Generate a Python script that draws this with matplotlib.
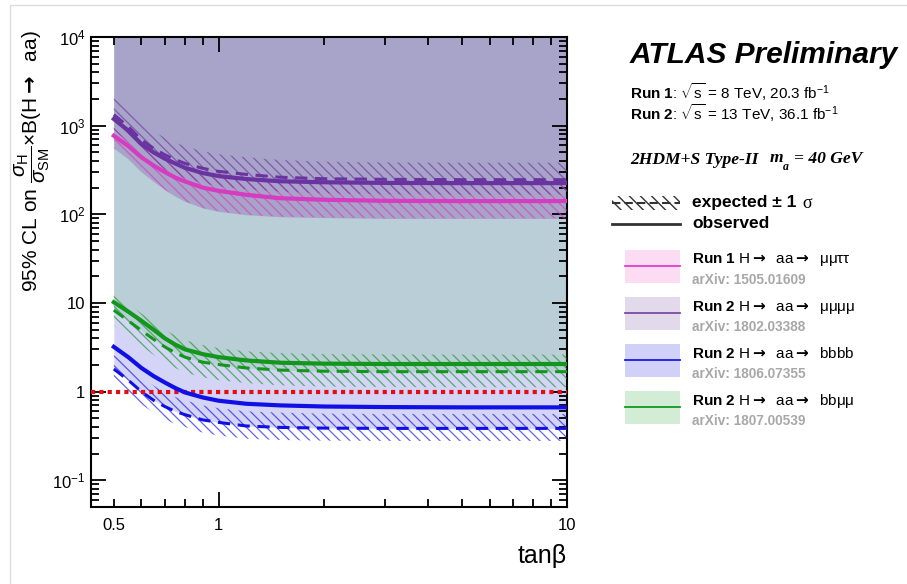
import numpy as np
import matplotlib
matplotlib.use('Agg')
import matplotlib.pyplot as plt
from matplotlib.collections import LineCollection
from matplotlib.patches import Rectangle
from matplotlib.ticker import FixedLocator, FuncFormatter, NullFormatter

plt.rcParams['font.family'] = ['Liberation Sans', 'DejaVu Sans']
plt.rcParams['mathtext.fontset'] = 'custom'
plt.rcParams['mathtext.rm'] = 'Liberation Sans'
plt.rcParams['mathtext.it'] = 'Liberation Sans:italic'
plt.rcParams['mathtext.bf'] = 'Liberation Sans:bold'
plt.rcParams['mathtext.sf'] = 'DejaVu Sans:bold'

# tan(beta) grid
tanb = [0.5, 0.55, 0.6, 0.65, 0.7, 0.75, 0.8, 0.9, 1.0, 1.2, 1.5, 2, 3, 5, 10]

# Run 1 mumutautau
pink_obs = [770, 590, 440, 355, 300, 260, 235, 200, 184, 166, 152, 146, 142, 141, 141]
pink_up = [1150, 880, 650, 530, 445, 390, 350, 300, 270, 245, 228, 218, 212, 210, 210]
pink_lo = [560, 420, 300, 235, 190, 160, 140, 118, 108, 99, 94, 92, 90, 90, 90]

# Run 2 mumumumu
purp_obs = [1190, 880, 620, 500, 425, 375, 335, 292, 270, 250, 236, 230, 226, 225, 225]
purp_exp = [1330, 980, 690, 555, 470, 415, 375, 330, 305, 282, 262, 252, 248, 246, 246]
purp_up = [2050, 1500, 1060, 860, 730, 645, 585, 515, 475, 440, 410, 392, 385, 382, 382]
purp_lo = [900, 660, 470, 380, 320, 282, 255, 225, 207, 192, 180, 172, 168, 167, 167]

# Run 2 bbbb
blue_obs = [3.2, 2.45, 1.85, 1.5, 1.27, 1.1, 0.98, 0.86, 0.79, 0.73, 0.70, 0.68, 0.67, 0.665, 0.665]
blue_exp = [1.8, 1.35, 1.0, 0.8, 0.68, 0.6, 0.55, 0.48, 0.45, 0.41, 0.395, 0.388, 0.385, 0.385, 0.385]
blue_up = [2.6, 1.95, 1.45, 1.17, 0.98, 0.87, 0.8, 0.7, 0.65, 0.6, 0.58, 0.565, 0.56, 0.56, 0.56]
blue_lo = [1.3, 0.97, 0.72, 0.58, 0.49, 0.43, 0.4, 0.345, 0.32, 0.295, 0.285, 0.28, 0.278, 0.278, 0.278]

# Run 2 bbmumu
green_obs = [10.2, 8.0, 6.3, 5.0, 4.0, 3.4, 3.0, 2.65, 2.45, 2.25, 2.12, 2.07, 2.05, 2.05, 2.05]
green_exp = [8.3, 6.3, 4.9, 3.9, 3.2, 2.75, 2.45, 2.15, 2.02, 1.85, 1.75, 1.7, 1.68, 1.68, 1.68]
green_up = [12.8, 9.8, 7.6, 6.1, 5.0, 4.3, 3.8, 3.35, 3.1, 2.85, 2.72, 2.65, 2.63, 2.62, 2.62]
green_lo = [5.6, 4.2, 3.3, 2.6, 2.15, 1.85, 1.65, 1.45, 1.35, 1.25, 1.18, 1.14, 1.13, 1.12, 1.12]

entries = [
    ('Run 1', 'μμττ', 'arXiv: 1505.01609', '#fcdcf3', '#e040c8'),
    ('Run 2', 'μμμμ', 'arXiv: 1802.03388', '#e2d9ea', '#7a4aa8'),
    ('Run 2', 'bbbb', 'arXiv: 1806.07355', '#d0d0f8', '#1a1ae0'),
    ('Run 2', 'bbμμ', 'arXiv: 1807.00539', '#d2ecd6', '#129a1e'),
]

c_pink = '#d63cc0'
c_purp = '#6a34a0'
c_blue = '#1010e6'
c_green = '#12961c'

fig = plt.figure(figsize=(9.07, 5.84), dpi=100)
ax = fig.add_axes([91 / 907, 1 - 507 / 584, (567 - 91) / 907, (507 - 37) / 584])
ax.set_xscale('log')
ax.set_yscale('log')
ax.set_xlim(0.43, 10)
ax.set_ylim(0.05, 1e4)


def hatch_band(x, lo, hi, color):
    poly = ax.fill_between(x, lo, hi, facecolor='none', edgecolor='none')
    segs = [[(c, 1.0), (c + 1.0, 0.0)] for c in np.arange(-1.05, 1.05, 0.021)]
    lc = LineCollection(segs, colors=color, linewidths=0.9, alpha=0.65,
                        transform=ax.transAxes, zorder=3)
    ax.add_collection(lc, autolim=False)
    lc.set_clip_path(poly.get_paths()[0], poly.get_transform())


# excluded regions (drawn opaque, layered)
ax.fill_between(tanb, blue_exp, 1e4, color='#d4d4f7', lw=0, zorder=1)
ax.fill_between(tanb, green_exp, 1e4, color='#b9ced6', lw=0, zorder=1)
ax.fill_between(tanb, pink_lo, 1e4, color='#a8a3c8', lw=0, zorder=1)

hatch_band(tanb, pink_lo, pink_up, c_pink)
hatch_band(tanb, purp_lo, purp_up, c_purp)
hatch_band(tanb, green_lo, green_up, c_green)
hatch_band(tanb, blue_lo, blue_up, c_blue)

ax.axhline(1, color='#e01010', lw=3, ls=(0, (1, 1)), dash_capstyle='butt', zorder=4)

ax.plot(tanb, purp_exp, color=c_purp, lw=2.2, ls=(0, (4, 2.5)), zorder=5)
ax.plot(tanb, purp_obs, color=c_purp, lw=3, zorder=6)
ax.plot(tanb, pink_obs, color=c_pink, lw=3, zorder=6)
ax.plot(tanb, green_exp, color=c_green, lw=2.2, ls=(0, (4, 2.5)), zorder=5)
ax.plot(tanb, green_obs, color=c_green, lw=3, zorder=6)
ax.plot(tanb, blue_exp, color=c_blue, lw=2.2, ls=(0, (4, 2.5)), zorder=5)
ax.plot(tanb, blue_obs, color=c_blue, lw=3, zorder=6)

# ROOT style axes
for s in ax.spines.values():
    s.set_linewidth(1.5)
ax.xaxis.set_major_locator(FixedLocator([1, 10]))
ax.xaxis.set_minor_locator(FixedLocator([0.5, 0.6, 0.7, 0.8, 0.9, 2, 3, 4, 5, 6, 7, 8, 9]))
ax.xaxis.set_major_formatter(FuncFormatter(lambda v, p: '%g' % v))
ax.xaxis.set_minor_formatter(FuncFormatter(lambda v, p: '0.5' if abs(v - 0.5) < 1e-6 else ''))
ylab = {0.1: '$10^{-1}$', 1: '1', 10: '10', 100: '$10^{2}$', 1000: '$10^{3}$', 10000: '$10^{4}$'}
ax.yaxis.set_major_locator(FixedLocator(list(ylab.keys())))
ax.yaxis.set_major_formatter(FuncFormatter(lambda v, p: ylab.get(round(v, 6), '')))
ax.yaxis.set_minor_locator(FixedLocator([m * 10.0 ** e for e in range(-2, 4) for m in range(2, 10)]))
ax.yaxis.set_minor_formatter(NullFormatter())
ax.tick_params(which='both', direction='in', top=True, right=True, width=1.3, labelsize=12)
ax.tick_params(which='major', length=11)
ax.tick_params(which='minor', length=6)
ax.tick_params(axis='x', which='both', pad=8)
ax.tick_params(axis='y', which='both', pad=4)

arrow = r'$\mathsf{\rightarrow}$'
fig.text(32 / 907, 1 - 30 / 584,
         r'95% CL on $\dfrac{\sigma_{\mathrm{H}}}{\sigma_{\mathrm{SM}}}$$\times$B(H' + arrow + '  aa)',
         rotation=90, ha='center', va='top', fontsize=15)
fig.text(567 / 907, 1 - 556 / 584, 'tanβ', ha='right', va='center', fontsize=18)

# legend / labels panel in pixel coords
lax = fig.add_axes([0, 0, 1, 1])
lax.set_xlim(0, 907)
lax.set_ylim(584, 0)
lax.axis('off')
lax.patch.set_alpha(0)

lax.text(630, 55, 'ATLAS Preliminary', fontsize=21.5, fontweight='bold', style='italic', va='center')
lax.text(630, 92, r'$\mathbf{Run\ 1}$: $\sqrt{\mathrm{s}}$ = 8 TeV, 20.3 fb$^{\mathrm{-1}}$', fontsize=11, va='center')
lax.text(630, 113, r'$\mathbf{Run\ 2}$: $\sqrt{\mathrm{s}}$ = 13 TeV, 36.1 fb$^{\mathrm{-1}}$', fontsize=11, va='center')
serif = dict(family='Liberation Serif', fontweight='bold', style='italic', va='center')
lax.text(630, 160, '2HDM+S Type-II', fontsize=12.6, **serif)
lax.text(770, 158, 'm', fontsize=12.6, **serif)
lax.text(783, 167, 'a', fontsize=8.5, **serif)
lax.text(794, 159, '= 40 GeV', fontsize=12.6, **serif)

# expected / observed
hr = Rectangle((612, 196), 68, 14, facecolor='none', edgecolor='#333333', hatch='\\\\\\', lw=0)
lax.add_patch(hr)
lax.plot([612, 680], [203, 203], color='#333333', lw=1.5, ls=(0, (4, 2)))
lax.plot([612, 680], [224, 224], color='#333333', lw=2)
lax.text(692, 203, 'expected ± 1', fontsize=12.5, fontweight='bold', va='center')
lax.text(802, 204, 'σ', family='Liberation Serif', fontsize=13, va='center')
lax.text(692, 224, 'observed', fontsize=12.5, fontweight='bold', va='center')

y0 = 250
for run, fs, arx, fc, lc in entries:
    lax.add_patch(Rectangle((625, y0), 55, 33, facecolor=fc, edgecolor='none'))
    lax.plot([625, 680], [y0 + 16, y0 + 16], color=lc, lw=1.3)
    lax.text(692, y0 + 10, r'$\mathbf{' + run.replace(' ', r'\ ') + '}$ H' + arrow + '  aa' + arrow + '  ' + fs,
             fontsize=11, va='center')
    lax.text(692, y0 + 30, arx, fontsize=9.8, fontweight='bold', color='#a8a8a8', va='center')
    y0 += 47

fig.patches.append(Rectangle((10 / 907, -0.1), 1.0, 1.1 - 5 / 584, transform=fig.transFigure,
                             fill=False, edgecolor='#dcdcdc', lw=1))

fig.savefig('out.png', dpi=100)
